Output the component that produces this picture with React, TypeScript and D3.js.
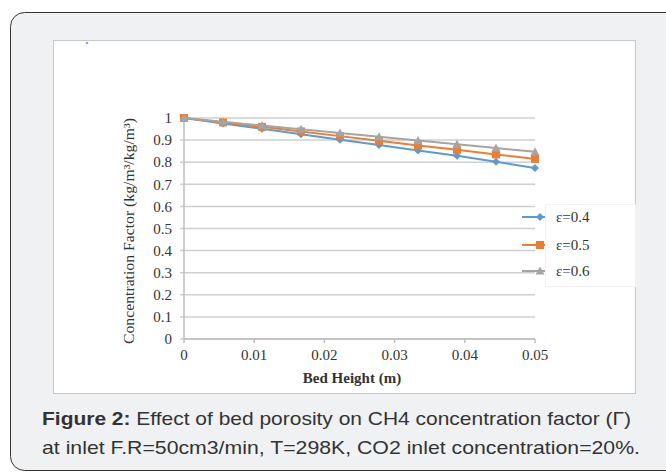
import React from "react";
import * as d3 from "d3";

const bedHeight = [0, 0.00556, 0.01111, 0.01667, 0.02222, 0.02778, 0.03333, 0.03889, 0.04444, 0.05];
const eps04 = [1, 0.975, 0.951, 0.926, 0.902, 0.878, 0.853, 0.829, 0.802, 0.774];
const eps05 = [1, 0.98, 0.96, 0.939, 0.918, 0.897, 0.876, 0.856, 0.835, 0.815];
const eps06 = [1, 0.983, 0.966, 0.949, 0.932, 0.915, 0.898, 0.881, 0.864, 0.847];
const seriesNames = ["ε=0.4", "ε=0.5", "ε=0.6"];
const xTicks = [0, 0.01, 0.02, 0.03, 0.04, 0.05];
const yTicks = [0, 0.1, 0.2, 0.3, 0.4, 0.5, 0.6, 0.7, 0.8, 0.9, 1];

const colors = ["#5b9bd5", "#ed7d31", "#a5a5a5"];
const serif = "'Liberation Serif', 'DejaVu Serif', serif";
const sans = "'Liberation Sans', Arial, sans-serif";

export default function App() {
  const x = d3.scaleLinear().domain([0, 0.05]).range([184, 535]);
  const y = d3.scaleLinear().domain([0, 1]).range([339, 118]);
  const series = [eps04, eps05, eps06];
  const line = d3
    .line<number>()
    .x((_, i) => x(bedHeight[i]))
    .y((d) => y(d));

  const marker = (k: number, cx: number, cy: number, key: string) => {
    const c = colors[k];
    if (k === 0) {
      const s = 4;
      return (
        <path key={key} d={`M${cx},${cy - s}L${cx + s},${cy}L${cx},${cy + s}L${cx - s},${cy}Z`} fill={c} />
      );
    }
    if (k === 1) {
      return <rect key={key} x={cx - 4} y={cy - 4} width={8} height={8} fill={c} />;
    }
    const s = 4.5;
    return (
      <path key={key} d={`M${cx},${cy - s}L${cx + s},${cy + s * 0.8}L${cx - s},${cy + s * 0.8}Z`} fill={c} />
    );
  };

  const legendY = [217, 245, 271];

  return (
    <svg
      width={666}
      height={475}
      style={{ position: "absolute", left: 0, top: 0 }}
      xmlns="http://www.w3.org/2000/svg"
    >
      <rect x={0} y={0} width={666} height={475} fill="#ffffff" />
      <rect x={10.5} y={12.5} width={700} height={458} rx={14} fill="#f0f1f3" stroke="#333" strokeWidth={1} />
      <rect x={53.5} y={40.5} width={582} height={353} fill="#ffffff" stroke="#c8c8c8" strokeWidth={1} />
      <circle cx={87} cy={43} r={1.3} fill="#9a9cf0" />

      {yTicks.map((t) => (
        <line key={"g" + t} x1={180} x2={535} y1={y(t)} y2={y(t)} stroke="#cfcfcf" strokeWidth={1.5} />
      ))}
      <line x1={184} x2={184} y1={118} y2={339} stroke="#bdbdbd" strokeWidth={1.5} />
      <line x1={184} x2={535} y1={339} y2={339} stroke="#bdbdbd" strokeWidth={1.5} />
      {xTicks.map((t) => (
        <line key={"xt" + t} x1={x(t)} x2={x(t)} y1={339} y2={343} stroke="#bdbdbd" strokeWidth={1.5} />
      ))}

      {yTicks.map((t) => (
        <text
          key={"yl" + t}
          x={172}
          y={y(t)}
          dy="0.35em"
          textAnchor="end"
          fontFamily={serif}
          fontSize={15}
          fill="#333"
        >
          {t === 0 || t === 1 ? String(t) : t.toFixed(1)}
        </text>
      ))}
      {xTicks.map((t) => (
        <text
          key={"xl" + t}
          x={x(t)}
          y={360}
          textAnchor="middle"
          fontFamily={serif}
          fontSize={15}
          fill="#333"
        >
          {t === 0 ? "0" : t.toFixed(2)}
        </text>
      ))}

      <text x={352} y={383} textAnchor="middle" fontFamily={serif} fontSize={15} fontWeight="bold" fill="#333">
        Bed Height (m)
      </text>
      <text
        transform="translate(134,231) rotate(-90)"
        textAnchor="middle"
        fontFamily={serif}
        fontSize={15}
        fill="#333"
        textLength={226}
        lengthAdjust="spacingAndGlyphs"
      >
        Concentration Factor (kg/m³/kg/m³)
      </text>

      {series.map((s, k) => (
        <g key={"s" + k}>
          <path d={line(s) || ""} fill="none" stroke={colors[k]} strokeWidth={2} />
          {s.map((v, i) => marker(k, x(bedHeight[i]), y(v), `m${k}-${i}`))}
        </g>
      ))}

      <rect x={545.5} y={204.5} width={90} height={82} fill="none" stroke="#f2f2f2" strokeWidth={1} />
      {seriesNames.map((n, k) => (
        <g key={"lg" + k}>
          <line x1={522} x2={545} y1={legendY[k]} y2={legendY[k]} stroke={colors[k]} strokeWidth={2} />
          {marker(k, 540, legendY[k], "lm" + k)}
          <text x={556} y={legendY[k]} dy="0.35em" fontFamily={serif} fontSize={15} fill="#333">
            {n}
          </text>
        </g>
      ))}

      <text x={42} y={425} fontFamily={sans} fontSize={19} fill="#333" textLength={589} lengthAdjust="spacingAndGlyphs">
        <tspan fontWeight="bold">Figure 2:</tspan>
        <tspan> Effect of bed porosity on CH4 concentration factor (Γ)</tspan>
      </text>
      <text x={42} y={454} fontFamily={sans} fontSize={19} fill="#333" textLength={598} lengthAdjust="spacingAndGlyphs">
        at inlet F.R=50cm3/min, T=298K, CO2 inlet concentration=20%.
      </text>
    </svg>
  );
}
